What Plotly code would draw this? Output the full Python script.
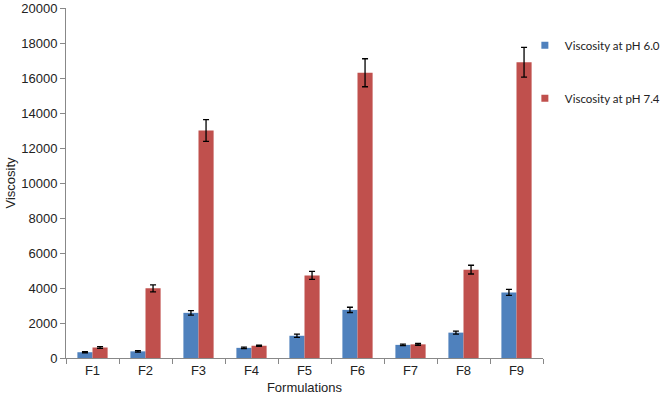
import plotly.graph_objects as go

categories = ["F1", "F2", "F3", "F4", "F5", "F6", "F7", "F8", "F9"]
ph60 = [330, 380, 2580, 580, 1270, 2750, 750, 1450, 3750]
ph60_err = [40, 40, 130, 40, 90, 150, 40, 90, 170]
ph74 = [600, 3980, 13000, 700, 4720, 16300, 780, 5050, 16900]
ph74_err = [50, 200, 620, 40, 230, 800, 50, 250, 850]
yticks = [0, 2000, 4000, 6000, 8000, 10000, 12000, 14000, 16000, 18000, 20000]
names = ["Viscosity at pH 6.0", "Viscosity at pH 7.4"]
colors = ["#4F81BD", "#C0504D"]

fig = go.Figure()
for vals, errs, name, col, grp in [(ph60, ph60_err, names[0], colors[0], "a"),
                                   (ph74, ph74_err, names[1], colors[1], "b")]:
    fig.add_trace(go.Bar(
        x=categories, y=vals, name=name, legendgroup=grp, showlegend=False,
        marker=dict(color=col, line=dict(width=0)),
        error_y=dict(type="data", array=errs, color="black", thickness=1.3, width=3),
    ))
for name, col, grp in zip(names, colors, ["a", "b"]):
    fig.add_trace(go.Scatter(
        x=[None], y=[None], mode="markers", name=name, legendgroup=grp,
        marker=dict(symbol="square", size=7, color=col),
    ))

fig.update_layout(
    width=666, height=400,
    margin=dict(l=66, r=123, t=8, b=42, autoexpand=False),
    paper_bgcolor="white", plot_bgcolor="white",
    barmode="group", bargap=0.43, bargroupgap=0,
    font=dict(family="Liberation Sans", size=13, color="#222"),
    legend=dict(
        x=0.962, xanchor="left", y=0.935, yanchor="top",
        font=dict(family="Lato", size=11.5, color="#222"),
        tracegroupgap=34, itemwidth=30, bgcolor="rgba(0,0,0,0)",
    ),
    xaxis=dict(
        title=dict(text="Formulations", font=dict(size=13), standoff=6),
        showline=True, linecolor="#888", linewidth=1, automargin=False,
        ticks="outside", tickson="boundaries", ticklen=5, tickcolor="#888",
        showgrid=False,
    ),
    yaxis=dict(
        title=dict(text="Viscosity", font=dict(size=13), standoff=2),
        range=[0, 20000], tickvals=yticks, ticktext=[str(v) for v in yticks],
        showline=True, linecolor="#888", linewidth=1, automargin=False,
        ticks="outside", ticklen=5, tickcolor="#888",
        showgrid=False, zeroline=False,
    ),
)

fig.write_html("out.html", config={"displayModeBar": False},
               post_script="document.body.style.margin='0';")
